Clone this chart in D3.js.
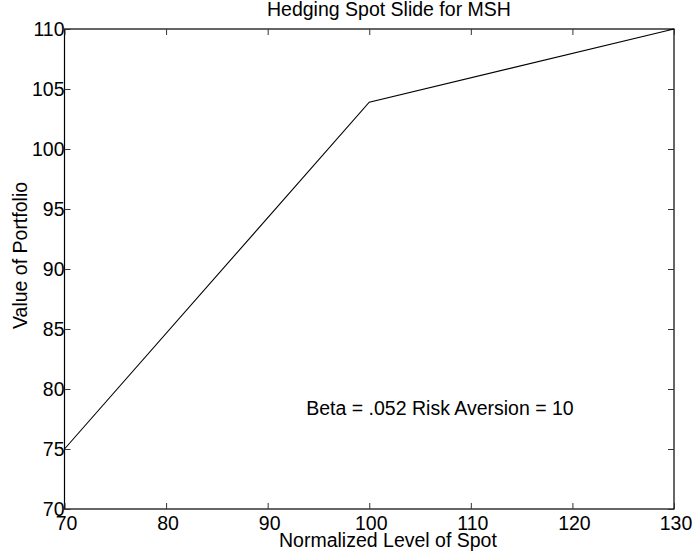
<!DOCTYPE html>
<html>
<head>
<meta charset="utf-8">
<script src="https://cdn.jsdelivr.net/npm/d3@7"></script>
<style>
  html, body { margin: 0; padding: 0; background: #fff; }
  svg text { font-family: "Liberation Sans", Arial, Helvetica, sans-serif; fill: #000; }
</style>
</head>
<body>
<script>
// ---- data ----
const spotLevels = [70, 100, 130];
const portfolioValues = [75, 103.9, 110];
const xTicks = [70, 80, 90, 100, 110, 120, 130];
const yTicks = [70, 75, 80, 85, 90, 95, 100, 105, 110];
const titleText = "Hedging Spot Slide for MSH";
const xLabelText = "Normalized Level of Spot";
const yLabelText = "Value of Portfolio";
const noteText = "Beta = .052 Risk Aversion = 10";
const noteAt = [93.8, 77.8];

// ---- layout ----
const W = 694, H = 557;
const L = 64.5, R = 674, T = 29, B = 509;
const fs = 19.5;

const svg = d3.select("body").append("svg").attr("width", W).attr("height", H);

const x = d3.scaleLinear().domain([70, 130]).range([L, R]);
const y = d3.scaleLinear().domain([70, 110]).range([B, T]);

// frame
svg.append("rect").attr("x", L).attr("y", T).attr("width", R - L).attr("height", B - T)
  .attr("fill", "none").attr("stroke", "#000").attr("stroke-width", 1.2);

const tickLen = 6;
// bottom axis (ticks inward) with labels
const xb = svg.append("g").attr("transform", `translate(0,${B})`)
  .call(d3.axisBottom(x).tickValues(xTicks).tickSize(-tickLen).tickPadding(0).tickFormat(d3.format("d")));
xb.select(".domain").remove();
xb.selectAll("text").attr("font-size", fs).attr("dy", null).attr("y", 20.5).attr("dx", 1.5);
// top axis (ticks inward, no labels)
const xt = svg.append("g").attr("transform", `translate(0,${T})`)
  .call(d3.axisTop(x).tickValues(xTicks).tickSize(-tickLen).tickFormat(""));
xt.select(".domain").remove();
// left axis
const yl = svg.append("g").attr("transform", `translate(${L},0)`)
  .call(d3.axisLeft(y).tickValues(yTicks).tickSize(-tickLen).tickPadding(0).tickFormat(d3.format("d")));
yl.select(".domain").remove();
yl.selectAll("text").attr("font-size", fs).attr("x", 0).attr("dy", "0.35em");
// right axis
const yr = svg.append("g").attr("transform", `translate(${R},0)`)
  .call(d3.axisRight(y).tickValues(yTicks).tickSize(-tickLen).tickFormat(""));
yr.select(".domain").remove();

svg.selectAll(".tick line").attr("stroke", "#333").attr("stroke-width", 1);

// data line
const line = d3.line().x((d, i) => x(spotLevels[i])).y(d => y(d));
svg.append("path").datum(portfolioValues).attr("d", line)
  .attr("fill", "none").attr("stroke", "#000").attr("stroke-width", 1.1);

// title
svg.append("text").attr("x", 267).attr("y", 16).attr("font-size", fs).text(titleText);
// x label
svg.append("text").attr("x", 279).attr("y", 547).attr("font-size", fs).text(xLabelText);
// y label
svg.append("text").attr("transform", "translate(27,329) rotate(-90)").attr("font-size", fs).text(yLabelText);
// annotation
svg.append("text").attr("x", x(noteAt[0])).attr("y", y(noteAt[1])).attr("font-size", fs).text(noteText);
</script>
</body>
</html>
